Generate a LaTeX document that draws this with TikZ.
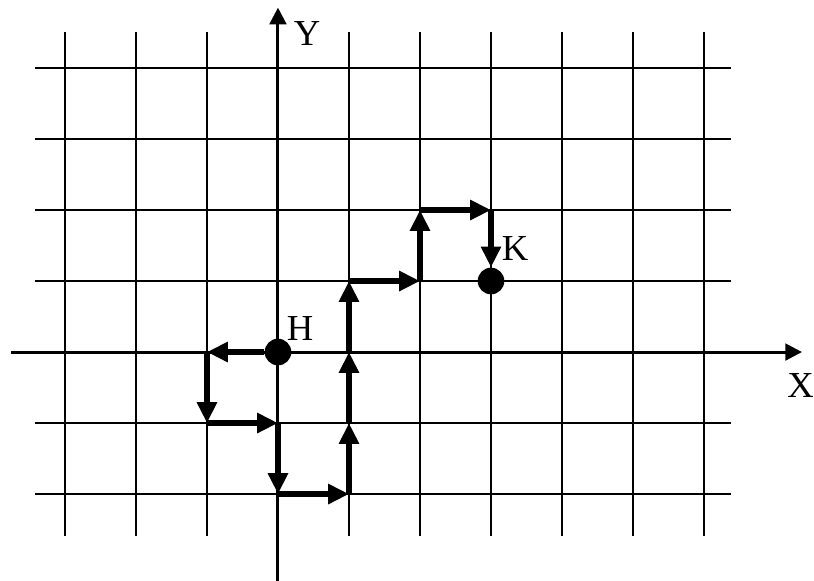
\documentclass[tikz,border=0pt]{standalone}
\usepackage{fontspec}
\setmainfont{Liberation Serif}
\usetikzlibrary{arrows.meta}

\begin{document}
\begin{tikzpicture}[x=1.5cm,y=1.5cm]
  \tikzstyle{grid}=[line width=0.9pt]
  \tikzstyle{axis}=[line width=1.8pt,-{Triangle[length=10pt,width=10pt]}]
  \tikzstyle{move}=[line width=3.3pt,-{Triangle[length=12.5pt,width=11.5pt]}]
  \tikzstyle{dot}=[circle,fill,inner sep=0pt,minimum size=16pt]
  \tikzstyle{lbl}=[font=\fontsize{22}{26}\selectfont,inner sep=0pt]
  \useasboundingbox (-3.915,-3.211) rectangle (7.549,4.958);
  % grid
  \foreach \x in {-3,...,6} \draw[grid] (\x,-2.59) -- (\x,4.51);
  \foreach \y in {-2,...,4} \draw[grid] (-3.42,\y) -- (6.38,\y);
  % axes
  \coordinate (xs) at (-3.76,0);
  \coordinate (xe) at (7.38,0);
  \coordinate (ys) at (0,-3.3);
  \coordinate (ye) at (0,4.85);
  \draw[axis] (xs) -- (xe);
  \draw[axis] (ys) -- (ye);
  \node[lbl] (xlab) at (7.36,-0.47) {X};
  \node[lbl] (ylab) at (0.41,4.49) {Y};
  % path from H to K
  \node[dot] (H) at (0,0) {};
  \node[dot] (K) at (3,1) {};
  \node[lbl] (hlab) at (0.31,0.33) {H};
  \node[lbl] (klab) at (3.34,1.46) {K};
  \coordinate (a) at (-1,0);
  \coordinate (b) at (-1,-1);
  \coordinate (c) at (0,-1);
  \coordinate (d) at (0,-2);
  \coordinate (e) at (1,-2);
  \coordinate (f) at (1,-1);
  \coordinate (g) at (1,0);
  \coordinate (h) at (1,1);
  \coordinate (i) at (2,1);
  \coordinate (j) at (2,2);
  \coordinate (k) at (3,2);
  \draw[move] (H) -- (a);
  \draw[move] (a) -- (b);
  \draw[move] (b) -- (c);
  \draw[move] (c) -- (d);
  \draw[move] (d) -- (e);
  \draw[move] (e) -- (f);
  \draw[move] (f) -- (g);
  \draw[move] (g) -- (h);
  \draw[move] (h) -- (i);
  \draw[move] (i) -- (j);
  \draw[move] (j) -- (k);
  \draw[move] (k) -- (K);
\end{tikzpicture}
\end{document}
